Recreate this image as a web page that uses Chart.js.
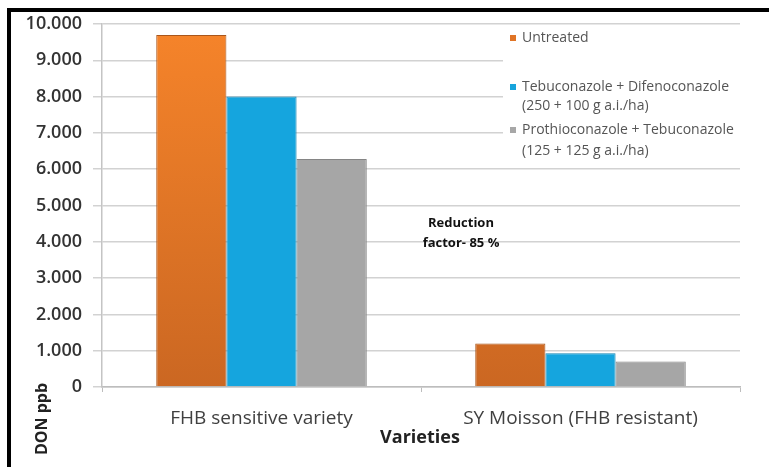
<!DOCTYPE html>
<html>
<head>
<meta charset="utf-8">
<script src="https://cdn.jsdelivr.net/npm/chart.js@4.4.1/dist/chart.umd.min.js"></script>
<style>
  html, body { margin: 0; padding: 0; background: #fff; }
  #wrap { position: relative; width: 769px; height: 467px; }
  #frame { position: absolute; left: 7px; top: 8px; right: 0; bottom: 0;
           border-top: 4px solid #000; border-left: 4px solid #000; pointer-events: none; }
</style>
</head>
<body>
<div id="wrap">
  <canvas id="chart" width="769" height="467"></canvas>
  <div id="frame"></div>
</div>
<script>
// data
const varieties = ['FHB sensitive variety', 'SY Moisson (FHB resistant)'];
const untreated = [9700, 1200];
const tebuDifeno = [8000, 930];
const prothioTebu = [6280, 700];
const legendLines = [
    ['Untreated'],
    ['Tebuconazole + Difenoconazole', '(250 + 100 g a.i./ha)'],
    ['Prothioconazole + Tebuconazole', '(125 + 125 g a.i./ha)']
];
const yTicks = [0, 1000, 2000, 3000, 4000, 5000, 6000, 7000, 8000, 9000, 10000];
const noteLines = ['Reduction', 'factor- 85 %'];

const FONT = '"Open Sans", "Liberation Sans", sans-serif';

function fmt(v) {
    return String(v).replace(/\B(?=(\d{3})+(?!\d))/g, '.');
}

// orange bars get darker towards the bottom
function orangeFill(ctx) {
    const area = ctx.chart.chartArea;
    if (!area) return '#ec7a24';
    const g = ctx.chart.ctx.createLinearGradient(0, area.top, 0, area.bottom);
    g.addColorStop(0, '#f6842a');
    g.addColorStop(1, '#cb6722');
    return g;
}

// legend box + text note drawn inside the plot
const extras = {
    id: 'extras',
    afterDatasetsDraw(chart) {
        const c = chart.ctx;
        const colors = ['#e07426', '#17a4dc', '#a7a7a7'];
        c.save();
        c.fillStyle = '#ffffff';
        c.fillRect(503, 30, 238, 132);

        c.font = '14px ' + FONT;
        c.textBaseline = 'middle';
        c.textAlign = 'left';
        const ys = [[38], [87, 106], [130, 151]];
        legendLines.forEach((lines, i) => {
            c.fillStyle = colors[i];
            c.fillRect(510, ys[i][0] - 3, 6, 6);
            c.fillStyle = '#555555';
            lines.forEach((t, j) => c.fillText(t, 522, ys[i][j]));
        });

        c.font = 'bold 13px ' + FONT;
        c.fillStyle = '#111111';
        c.textAlign = 'center';
        c.fillText(noteLines[0], 461, 223);
        c.fillText(noteLines[1], 461, 243);

        // axis titles
        c.font = 'bold 18px ' + FONT;
        c.fillStyle = '#222222';
        c.fillText('Varieties', 420, 438);
        c.font = 'bold 16px ' + FONT;
        c.translate(42, 419);
        c.rotate(-Math.PI / 2);
        c.fillText('DON ppb', 0, 0);
        c.restore();
    }
};

new Chart(document.getElementById('chart'), {
    type: 'bar',
    data: {
        labels: varieties,
        datasets: [
            { label: legendLines[0].join(' '), data: untreated, backgroundColor: orangeFill, borderColor: '#a9561b', borderWidth: 1 },
            { label: legendLines[1].join(' '), data: tebuDifeno, backgroundColor: '#15a5de', borderColor: '#1385b3', borderWidth: 1 },
            { label: legendLines[2].join(' '), data: prothioTebu, backgroundColor: '#a6a6a6', borderColor: '#858585', borderWidth: 1 }
        ]
    },
    options: {
        responsive: false,
        animation: false,
        layout: { padding: { left: 0, top: 24, right: 29, bottom: 0 } },
        datasets: { bar: { categoryPercentage: 0.66, barPercentage: 1.0 } },
        plugins: { legend: { display: false }, tooltip: { enabled: false } },
        scales: {
            x: {
                afterFit(scale) { scale.height = 80; },
                grid: { drawOnChartArea: false, color: '#bdbdbd', tickLength: 5 },
                border: { color: '#bdbdbd', width: 1.5 },
                ticks: { color: '#404040', padding: 15, font: { family: FONT, size: 19 } }
            },
            y: {
                min: 0,
                max: 10000,
                afterFit(scale) { scale.width = 102; },
                afterBuildTicks(scale) { scale.ticks = yTicks.map(v => ({ value: v })); },
                grid: { color: '#d2d2d2', lineWidth: 1.5, tickLength: 9 },
                border: { color: '#c4c4c4', width: 1.5 },
                ticks: {
                    color: '#333333',
                    padding: 11,
                    font: { family: FONT, size: 18, weight: '600' },
                    callback: v => fmt(v)
                }
            }
        }
    },
    plugins: [extras]
});
</script>
</body>
</html>
